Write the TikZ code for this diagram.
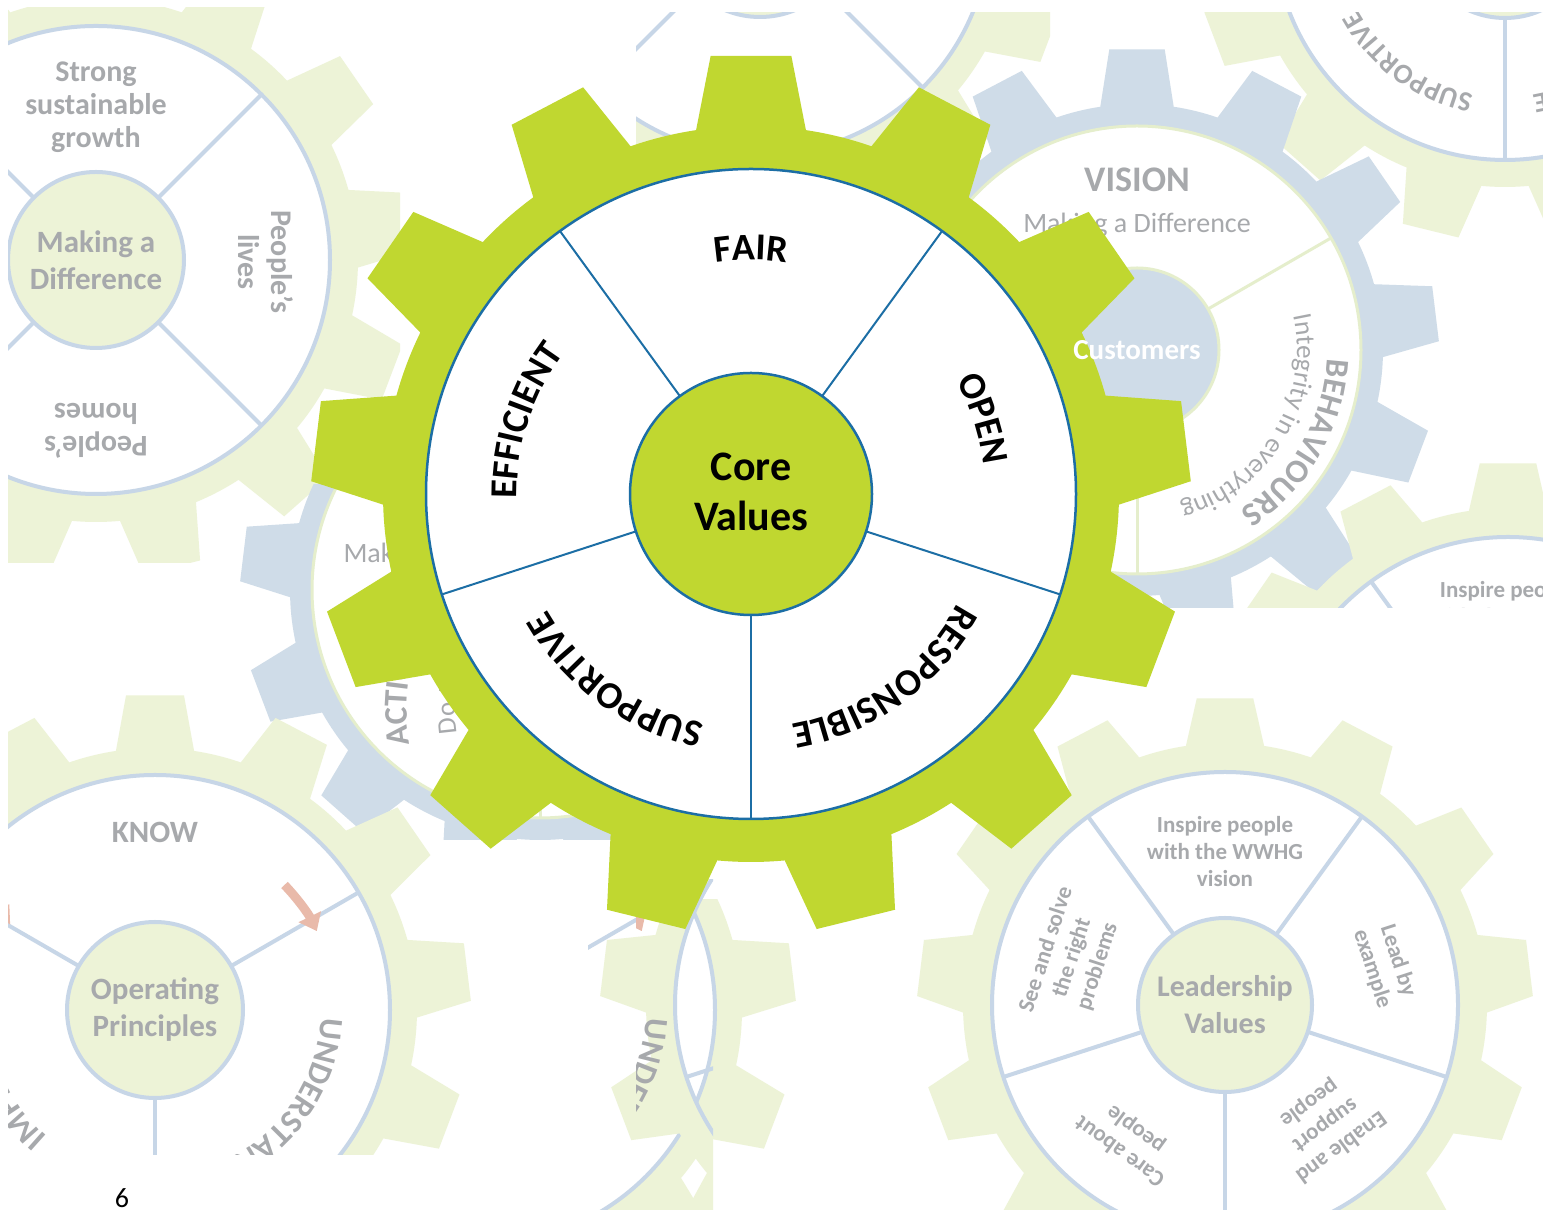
\documentclass[tikz,border=0pt]{standalone}
\usepackage{fontspec}
\setmainfont{Carlito}
\usetikzlibrary{decorations.text,arrows.meta}

\definecolor{valgreen}{RGB}{192,215,48}
\definecolor{palegreen}{RGB}{237,243,215}
\definecolor{paleblue}{RGB}{207,220,232}
\definecolor{rimblue}{RGB}{199,214,231}
\definecolor{rimgreen}{RGB}{229,238,204}
\definecolor{valblue}{RGB}{28,110,165}
\definecolor{labelgrey}{RGB}{167,169,172}
\definecolor{cyclepink}{RGB}{233,186,170}

% outline of a gear: teeth, root radius, tip radius, angle of first tooth
\newcommand{\gearpath}[4]{%
  ({#4-0.31*360/#1}:#2)
  \foreach \k in {1,...,#1}{
    -- ({#4+(\k-1)*360/#1-0.31*360/#1}:#2)
    -- ({#4+(\k-1)*360/#1-0.19*360/#1}:#3)
    -- ({#4+(\k-1)*360/#1+0.19*360/#1}:#3)
    -- ({#4+(\k-1)*360/#1+0.31*360/#1}:#2)
    arc[start angle={#4+(\k-1)*360/#1+0.31*360/#1},
        end angle={#4+\k*360/#1-0.31*360/#1}, radius=#2]
  } -- cycle}

% text set clockwise on a circle: radius, centre angle, colour, font, text
\newcommand{\arclabel}[5]{%
  \path[decorate, decoration={text along path, text align=center,
      text color=#3, text={|#4|#5}}]
    ({#2+85}:#1) arc[start angle={#2+85}, end angle={#2-85}, radius=#1];}

\newcommand{\valfont}{\fontsize{38}{42}\selectfont\bfseries}
\newcommand{\corefont}{\fontsize{42}{50}\selectfont\bfseries}
\newcommand{\headfont}{\fontsize{31}{37}\selectfont\bfseries}
\newcommand{\segfont}{\fontsize{30}{33}\selectfont\bfseries}
\newcommand{\leadfont}{\fontsize{23}{27}\selectfont\bfseries}
\newcommand{\ringfont}{\fontsize{33}{36}\selectfont\bfseries}
\newcommand{\linefont}{\fontsize{27}{30}\selectfont}
\newcommand{\smallvalfont}{\fontsize{28}{30}\selectfont\bfseries}

\tikzset{
  rim/.style={fill=white, draw=rimblue, line width=4pt},
  hub/.style={fill=palegreen, draw=rimblue, line width=4pt},
  spoke/.style={draw=rimblue, line width=4pt},
  bluerim/.style={fill=white, draw=rimgreen, line width=3pt},
  bluehub/.style={fill=paleblue, draw=rimgreen, line width=3pt},
  bluespoke/.style={draw=rimgreen, line width=3pt},
  greylabel/.style={text=labelgrey, align=center},
  cycle arrow/.style={cyclepink, line width=9pt, -{Triangle[length=16pt,width=24pt]}},
}

\begin{document}
\begin{tikzpicture}[x=1pt,y=1pt]
\useasboundingbox (0,0) rectangle (1543,1210);
\fill[white] (0,0) rectangle (1543,1210);

% making a difference, top left
\begin{scope}
\clip (8,647) rectangle (400,1202);
\begin{scope}[shift={(96,950)}]
\fill[palegreen] \gearpath{13}{262}{318}{90};
\draw[rim] (0,0) circle[radius=234];
\foreach \a in {45,135,225,315} \draw[spoke] (\a:88) -- (\a:234);
\draw[hub] (0,0) circle[radius=88];
\node[greylabel, font=\headfont] (mad) at (0,0) {Making a\\Difference};
\node[greylabel, font=\segfont] (growth) at (0,153) {Strong\\sustainable\\growth};
\node[greylabel, font=\segfont, rotate=-90] (lives) at (170,-2) {People’s\\lives};
\node[greylabel, font=\segfont, rotate=180] (homes) at (0,-171) {People’s\\homes};
\end{scope}
\end{scope}

% top middle
\begin{scope}
\clip (636,960) rectangle (1050,1197);
\begin{scope}[shift={(760,1285)}]
\fill[palegreen] \gearpath{13}{258}{312}{90};
\draw[rim] (0,0) circle[radius=230];
\foreach \a in {45,135,225,315} \draw[spoke] (\a:92) -- (\a:230);
\draw[hub] (0,0) circle[radius=92];
\end{scope}
\end{scope}

% values, top right
\begin{scope}
\clip (1190,960) rectangle (1543,1197);
\begin{scope}[shift={(1505,1281)}]
\fill[palegreen] \gearpath{13}{258}{312}{90};
\draw[rim] (0,0) circle[radius=231];
\foreach \a in {54,126,198,270,342} \draw[spoke] (\a:89) -- (\a:231);
\draw[hub] (0,0) circle[radius=89];
\arclabel{168}{-126}{labelgrey}{\smallvalfont}{SUPPORTIVE}
\arclabel{168}{-54}{labelgrey}{\smallvalfont}{RESPONSIBLE}
\end{scope}
\end{scope}

% vision
\begin{scope}
\clip (940,602) rectangle (1543,1197);
\begin{scope}[shift={(1137,860)}]
\fill[paleblue] \gearpath{13}{246}{302}{90};
\draw[bluerim] (0,0) circle[radius=224];
\foreach \a in {30,150,270} \draw[bluespoke] (\a:82) -- (\a:224);
\draw[bluehub] (0,0) circle[radius=82];
\node[greylabel, font=\fontsize{36}{40}\selectfont\bfseries] (vision) at (0,170) {VISION};
\node[greylabel, font=\fontsize{28}{30}\selectfont] (visiontext) at (0,125) {Making a Difference};
\arclabel{190}{-30}{labelgrey}{\ringfont}{BEHAVIOURS}
\arclabel{160}{-31}{labelgrey}{\linefont}{Integrity in everything}
\end{scope}
\end{scope}

% leadership, right middle
\begin{scope}
\clip (1190,602) rectangle (1543,790);
\begin{scope}[shift={(1508,440)}]
\fill[palegreen] \gearpath{13}{262}{308}{90};
\draw[rim] (0,0) circle[radius=233];
\foreach \a in {54,126,198,270,342} \draw[spoke] (\a:87) -- (\a:233);
\draw[hub] (0,0) circle[radius=87];
\node[greylabel, font=\leadfont] (inspire2) at (0,153) {Inspire people\\with the WWHG\\vision};
\end{scope}
\end{scope}

% actions
\begin{scope}
\clip (200,370) rectangle (640,725);
\begin{scope}[shift={(540,620)}]
\fill[paleblue] \gearpath{13}{250}{300}{90};
\draw[bluerim] (0,0) circle[radius=228];
\foreach \a in {30,150,270} \draw[bluespoke] (\a:82) -- (\a:228);
\draw[bluehub] (0,0) circle[radius=82];
\node[greylabel, font=\fontsize{28}{30}\selectfont, anchor=west] (making2) at (-200,35) {Making a Difference};
\begin{scope}[shift={(55,-120)}]
\arclabel{188}{172}{labelgrey}{\ringfont}{ACTIONS}
\arclabel{140}{150}{labelgrey}{\linefont}{Do the right thing}
\end{scope}
\end{scope}
\end{scope}

% operating principles
\begin{scope}
\clip (8,55) rectangle (480,520);
\begin{scope}[shift={(155,200)}]
\fill[palegreen] \gearpath{13}{262}{316}{90};
\draw[rim] (0,0) circle[radius=235];
\foreach \a in {30,150,270} \draw[spoke] (\a:88) -- (\a:235);
\draw[hub] (0,0) circle[radius=88];
\draw[cycle arrow] (44:180) arc[start angle=44, end angle=26, radius=180];
\draw[cycle arrow] (162:180) arc[start angle=162, end angle=144, radius=180];
\draw[cycle arrow] (282:180) arc[start angle=282, end angle=264, radius=180];
\node[greylabel, font=\headfont] (op) at (0,0) {Operating\\Principles};
\node[greylabel, font=\headfont] (know) at (0,178) {KNOW};
\arclabel{166}{-36}{labelgrey}{\ringfont}{UNDERSTAND}
\arclabel{166}{207}{labelgrey}{\ringfont}{IMPROVE}
\end{scope}
\end{scope}

% operating principles and leadership, bottom middle
\begin{scope}
\clip (588,0) rectangle (800,310);
\begin{scope}[shift={(480,200)}]
\fill[palegreen] \gearpath{13}{262}{316}{90};
\draw[rim] (0,0) circle[radius=235];
\foreach \a in {30,150,270} \draw[spoke] (\a:88) -- (\a:235);
\end{scope}
\end{scope}
\begin{scope}
\clip (588,0) rectangle (713,330);
\begin{scope}[shift={(908,205)}]
\fill[palegreen, even odd rule] \gearpath{13}{262}{308}{90} (0,0) circle[radius=233];
\draw[spoke] (0,0) circle[radius=233];
\draw[spoke] (198:87) -- (198:233);
\end{scope}
\end{scope}
\begin{scope}
\clip (636,0) rectangle (800,310);
\begin{scope}[shift={(480,200)}]
\draw[cycle arrow] (44:180) arc[start angle=44, end angle=26, radius=180];
\arclabel{166}{-36}{labelgrey}{\ringfont}{UNDERSTAND}
\end{scope}
\end{scope}

% leadership values
\begin{scope}
\clip (800,0) rectangle (1543,600);
\begin{scope}[shift={(1225,205)}]
\fill[palegreen] \gearpath{13}{262}{308}{90};
\draw[rim] (0,0) circle[radius=233];
\foreach \a in {54,126,198,270,342} \draw[spoke] (\a:87) -- (\a:233);
\draw[hub] (0,0) circle[radius=87];
\node[greylabel, font=\fontsize{30}{37}\selectfont\bfseries] (lv) at (0,0) {Leadership\\Values};
\node[greylabel, font=\leadfont] (inspire) at (0,153) {Inspire people\\with the WWHG\\vision};
\node[greylabel, font=\leadfont, rotate=-72] (lead) at (160,40) {Lead by\\example};
\node[greylabel, font=\leadfont, rotate=-144] (enable) at (100,-120) {Enable and\\support\\people};
\node[greylabel, font=\leadfont, rotate=144] (care) at (-97,-135) {Care about\\people};
\node[greylabel, font=\leadfont, rotate=72] (solve) at (-153,47) {See and solve\\the right\\problems};
\end{scope}
\end{scope}

% core values
\begin{scope}[shift={(751,716)}]
\fill[valgreen] \gearpath{13}{368}{440}{90};
\draw[fill=white, draw=valblue, line width=2.5pt] (0,0) circle[radius=325];
\foreach \a in {54,126,198,270,342} \draw[valblue, line width=2pt] (\a:121) -- (\a:325);
\draw[fill=valgreen, draw=valblue, line width=2.5pt] (0,0) circle[radius=121];
\node[font=\corefont, align=center] (core) at (0,2) {Core\\Values};
\arclabel{234}{90}{black}{\valfont}{FAIR}
\arclabel{234}{18}{black}{\valfont}{OPEN}
\arclabel{234}{-54}{black}{\valfont}{RESPONSIBLE}
\arclabel{234}{-126}{black}{\valfont}{SUPPORTIVE}
\arclabel{234}{162}{black}{\valfont}{EFFICIENT}
\end{scope}

\node[text=white, font=\fontsize{29}{32}\selectfont\bfseries] (customers) at (1137,860) {Customers};
\node[font=\fontsize{28}{30}\selectfont] (page) at (122,12) {6};
\end{tikzpicture}
\end{document}
